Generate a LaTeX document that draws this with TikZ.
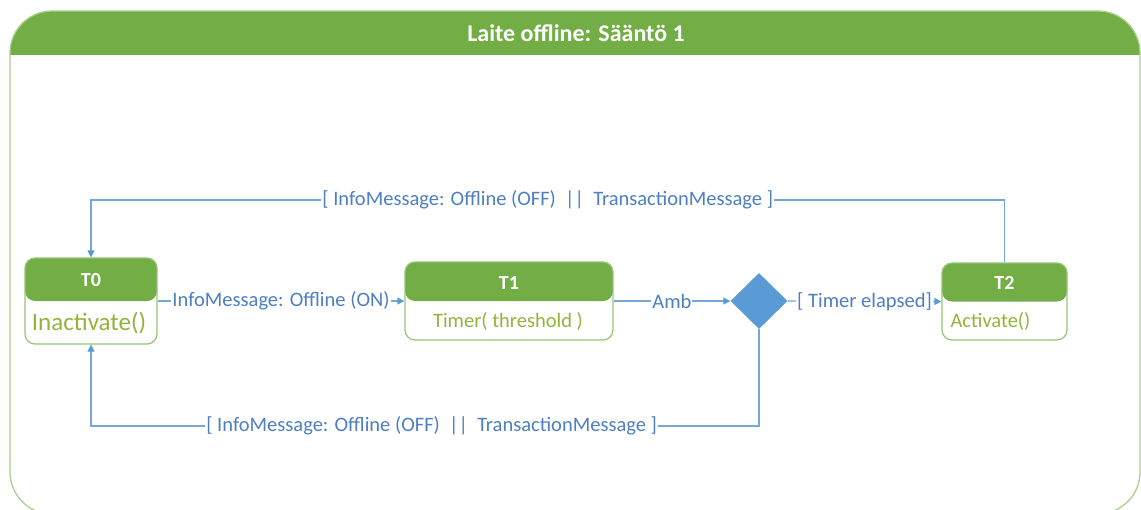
\documentclass[tikz,border=0pt]{standalone}
\usepackage{fontspec}
\setmainfont{Carlito}
\usetikzlibrary{arrows.meta,shapes.geometric}

\definecolor{hdrgreen}{HTML}{72AD45}
\definecolor{framegreen}{HTML}{A9D18E}
\definecolor{boxgreen}{HTML}{95C576}
\definecolor{bodytext}{HTML}{93B43B}
\definecolor{linkblue}{HTML}{76A7DB}
\definecolor{tipblue}{HTML}{5B9BD5}
\definecolor{labelblue}{HTML}{4E7FC0}

\tikzset{
  statebox/.style={draw=boxgreen, line width=1.2pt, rounded corners=10pt,
    fill=white, inner sep=0pt},
  header/.style={path picture={\fill[hdrgreen]
      (path picture bounding box.north west) rectangle
      ([yshift=-#1]path picture bounding box.east);}},
  title/.style={text=white, font=\bfseries\fontsize{20}{22}\selectfont},
  body/.style={text=bodytext, font=\fontsize{20.5}{22}\selectfont},
  conn/.style={draw=linkblue, line width=1.2pt,
    -{Triangle[length=7pt,width=7pt,color=tipblue]}},
  lbl/.style={fill=white, text=labelblue, inner sep=1pt,
    font=\fontsize{20.5}{22}\selectfont},
  choice/.style={diamond, fill=tipblue, draw=none, minimum width=57pt,
    minimum height=56pt, inner sep=0pt},
}

\begin{document}
\begin{tikzpicture}[x=1pt,y=-1pt]
  \useasboundingbox (0,0) rectangle (1141,509);
  \clip (0,0) rectangle (1141,509);

  % outer frame with title bar
  \begin{scope}
    \clip[rounded corners=42pt] (10,11) rectangle (1140,514);
    \fill[hdrgreen] (10,11) rectangle (1140,55);
  \end{scope}
  \draw[framegreen, line width=1.3pt, rounded corners=42pt]
    (10,11) rectangle (1140,514);
  \node[title, font=\bfseries\fontsize{24}{26}\selectfont] (ttl) at (576,33)
    {Laite offline: Sääntö 1};

  % states
  \node[statebox, header=0pt, minimum width=132pt, minimum height=86pt]
    (t0) at (91,301) {};
  \node[title] (t0h) at (91,280) {T0};
  \node[body, font=\fontsize{25}{27}\selectfont] (t0b) at (89,323) {Inactivate()};

  \node[statebox, header=0pt, minimum width=208pt, minimum height=78pt]
    (t1) at (509,301) {};
  \node[title] (t1h) at (509,283) {T1};
  \node[body] (t1b) at (508,321) {Timer( threshold )};

  \node[statebox, header=0pt, minimum width=125pt, minimum height=77pt]
    (t2) at (1004.5,301.5) {};
  \node[title] (t2h) at (1004.5,283) {T2};
  \node[body, anchor=west] (t2b) at (947,321) {Activate()};

  % decision
  \node[choice] (dec) at (759,301) {};

  % transitions
  \coordinate (topy) at (0,200);
  \coordinate (boty) at (0,426);

  \draw[conn] (t0.east) -- node[lbl] {InfoMessage: Offline (ON)} (t1.west);
  \draw[conn] (t1.east) -- node[lbl] {Amb} (dec.west);
  \draw[conn] (dec.east) -- node[lbl] {[ Timer elapsed]} (t2.west);

  \draw[conn] (t2.north) -- (t2.north |- topy)
    -- node[lbl] {[ InfoMessage: Offline (OFF) \ || \ TransactionMessage ]}
       (t0.north |- topy) -- (t0.north);
  \draw[conn] (dec.south) -- (dec.south |- boty)
    -- node[lbl, pos=0.49] {[ InfoMessage: Offline (OFF) \ || \ TransactionMessage ]}
       (t0.south |- boty) -- (t0.south);
\end{tikzpicture}
\end{document}
